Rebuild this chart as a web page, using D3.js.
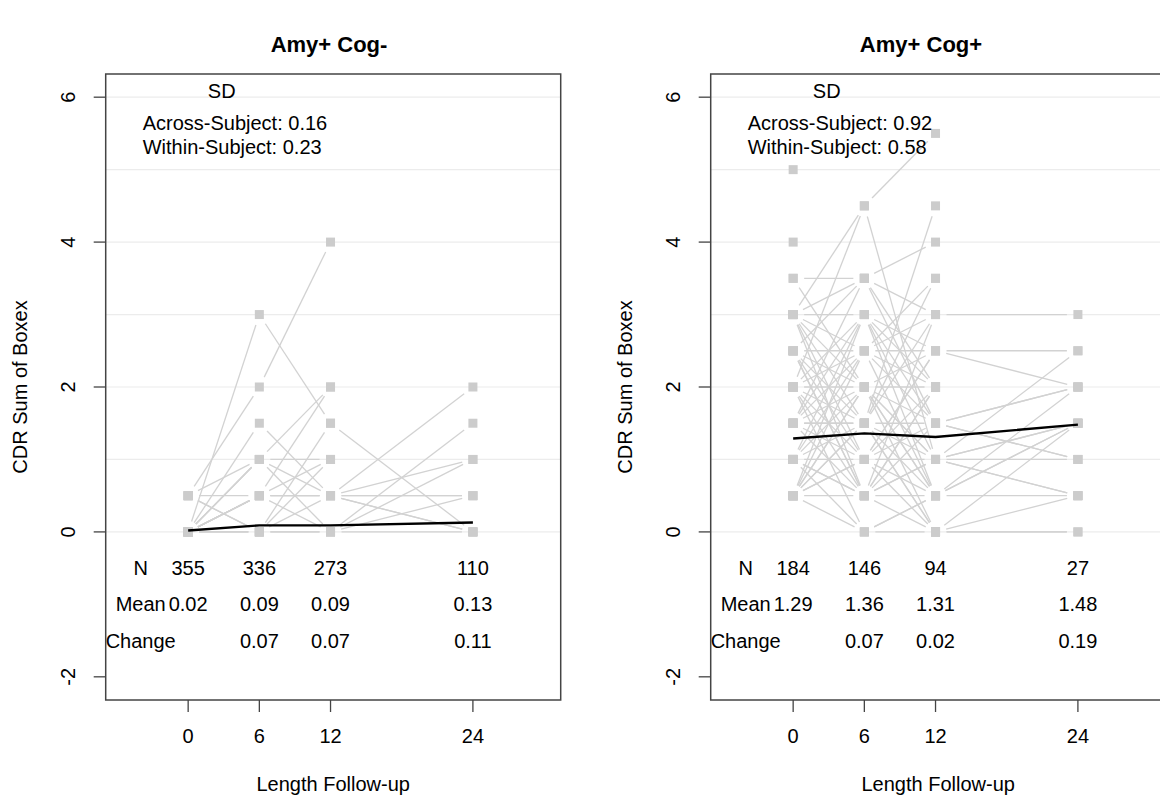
<!DOCTYPE html>
<html>
<head>
<meta charset="utf-8">
<title>cdr-spaghetti</title>
<style>
  * { margin: 0; padding: 0; }
  body { background: #fff; }
  svg { display: block; font-family: "Liberation Sans", Arial, sans-serif; }
</style>
</head>
<body>
<svg id="chart"></svg>
<script src="https://cdnjs.cloudflare.com/ajax/libs/d3/7.8.5/d3.min.js"></script>
<script>
// follow-up visits (months) and axis ticks
const months = [0, 6, 12, 24];
const yTicks = [-2, 0, 2, 4, 6];
const gridLevels = [0, 1, 2, 3, 4, 5, 6];

// Amy+ Cog- panel
const negTitle = 'Amy+ Cog-';
const negN = [355, 336, 273, 110];
const negMean = [0.02, 0.09, 0.09, 0.13];
const negChange = [null, 0.07, 0.07, 0.11];
const negSD = [0.16, 0.23];
// one row per subject: CDR-SB at 0, 6, 12, 24 months (null = no visit)
const negSubjects = [
  [0, 3, 1.5, 0],
  [0.5, 2, 4, null],
  [0, 1.5, 0.5, 2],
  [0.5, 1, 2, null],
  [0, 1, 0, 1.5],
  [0, 0.5, 0.5, 1],
  [0.5, 0.5, 0.5, 0.5],
  [0.5, 0, 1.5, null],
  [0, 0.5, 2, null],
  [0, 1, 0.5, 0],
  [0, 0.5, 0, 1],
  [0, 0, 0.5, 0.5],
  [0, 1, 1, null],
  [0, 0.5, 1, null],
  [0, 0, 1, null],
  [0, 0, 0, 0],
  [0.5, 0, 0, 0.5],
  [0, 0.5, 0.5, 0]
];

// Amy+ Cog+ panel
const posTitle = 'Amy+ Cog+';
const posN = [184, 146, 94, 27];
const posMean = [1.29, 1.36, 1.31, 1.48];
const posChange = [null, 0.07, 0.02, 0.19];
const posSD = [0.92, 0.58];
const posSubjects = [
  [3, 4.5, 5.5, null],
  [2, 4.5, 1, 2.5],
  [3, 3.5, 4, null],
  [3.5, 3.5, 3, 3],
  [3, 3, 2.5, 2.5],
  [1.5, 1.5, 4.5, null],
  [5, null, null, null],
  [4, null, null, null],
  [2.5, 2.5, 2.5, 2],
  [2, 2, 2, null],
  [1.5, 1.5, 1.5, 2],
  [1, 1, 1, 1],
  [0.5, 0.5, 0.5, 0.5],
  [0.5, 0, 0, 0],
  [2.5, 1.5, 0.5, 1.5],
  [2.5, 1, 0, 0.5],
  [2, 0.5, 1, 1.5],
  [0.5, 2.5, 3, null],
  [0.5, 3, 2, null],
  [0.5, 2, 1, 0.5],
  [1, 2.5, 3.5, null],
  [1, 3, 1.5, 1],
  [1.5, 3, 0.5, 2],
  [3, 2, 1.5, 2],
  [2, 1, 2.5, null],
  [2.5, 0.5, 1.5, 1],
  [3, 1.5, 0, 1.5],
  [1.5, 2.5, 0.5, 1.5],
  [1, 0.5, 2, null],
  [0.5, 1.5, 3, null],
  [3.5, 2, 0.5, null],
  [2, 3, 1, 0.5],
  [1.5, 0.5, 3, null],
  [1, 1.5, 0, 0],
  [2.5, 2, 1, 1.5],
  [0.5, 1, 2.5, null],
  [3, 2.5, 1.5, null],
  [1, 0, 0.5, null],
  [2, 2.5, 2, null],
  [1.5, 2, 0, null],
  [0.5, 1.5, 1, null],
  [2.5, 3.5, 2, null],
  [2, 1.5, 3.5, null],
  [1, 2, 0.5, null],
  [3, 1, 1.5, null],
  [0.5, 2, 2.5, null],
  [2.5, 0.5, 0, null],
  [1.5, 1, 2, null],
  [1, 0.5, 1, null],
  [2, 0, 0.5, null],
  [3, 0.5, 2, null],
  [0.5, 1, 0.5, null],
  [1.5, 3.5, 1.5, null]
];

const W = 1160, H = 796;
const FS = '20px';
const svg = d3.select('#chart').attr('width', W).attr('height', H);

function drawPanel(left, titleX, title, subjects, nRow, meanRow, changeRow, sd) {
  const box = { left: left, right: left + 455, top: 74, bottom: 700 };
  const x = d3.scaleLinear().domain([-6.95, 31.4]).range([box.left, box.right]);
  const y = d3.scaleLinear().domain([-2.32, 6.32]).range([box.bottom, box.top]);
  const g = svg.append('g');

  // grid
  g.selectAll('.grid').data(gridLevels).enter().append('line')
    .attr('x1', box.left).attr('x2', box.right)
    .attr('y1', d => y(d)).attr('y2', d => y(d))
    .attr('stroke', '#ececec').attr('stroke-width', 1.2);

  // subject segments, type="b" style gaps around the points
  const gap = 11;
  const segs = [];
  subjects.forEach(s => {
    for (let i = 0; i < s.length - 1; i++) {
      if (s[i] == null || s[i + 1] == null) continue;
      const x1 = x(months[i]), y1 = y(s[i]), x2 = x(months[i + 1]), y2 = y(s[i + 1]);
      const len = Math.hypot(x2 - x1, y2 - y1);
      if (len <= 2 * gap) continue;
      const ux = (x2 - x1) / len, uy = (y2 - y1) / len;
      segs.push([x1 + ux * gap, y1 + uy * gap, x2 - ux * gap, y2 - uy * gap]);
    }
  });
  g.selectAll('.seg').data(segs).enter().append('line')
    .attr('x1', d => d[0]).attr('y1', d => d[1])
    .attr('x2', d => d[2]).attr('y2', d => d[3])
    .attr('stroke', '#d2d2d2').attr('stroke-width', 1.3);

  // points
  const pts = [];
  subjects.forEach(s => s.forEach((v, i) => { if (v != null) pts.push([months[i], v]); }));
  g.selectAll('.pt').data(pts).enter().append('rect')
    .attr('x', d => x(d[0]) - 4.5).attr('y', d => y(d[1]) - 4.5)
    .attr('width', 9).attr('height', 9)
    .attr('fill', '#cccccc');

  // mean trajectory
  const line = d3.line().x((d, i) => x(months[i])).y(d => y(d));
  g.append('path').datum(meanRow).attr('d', line)
    .attr('fill', 'none').attr('stroke', '#000').attr('stroke-width', 2.4);

  // frame
  g.append('rect')
    .attr('x', box.left).attr('y', box.top)
    .attr('width', box.right - box.left).attr('height', box.bottom - box.top)
    .attr('fill', 'none').attr('stroke', '#444').attr('stroke-width', 1.5);

  // y axis ticks and labels
  g.selectAll('.ytick').data(yTicks).enter().append('line')
    .attr('x1', box.left - 12).attr('x2', box.left)
    .attr('y1', d => y(d)).attr('y2', d => y(d))
    .attr('stroke', '#444').attr('stroke-width', 1.3);
  g.selectAll('.ylab').data(yTicks).enter().append('text')
    .attr('transform', d => `translate(${box.left - 38},${y(d)}) rotate(-90)`)
    .attr('text-anchor', 'middle').attr('dy', '0.35em')
    .style('font-size', FS).text(d => d);

  // x axis ticks and labels
  g.selectAll('.xtick').data(months).enter().append('line')
    .attr('x1', d => x(d)).attr('x2', d => x(d))
    .attr('y1', box.bottom).attr('y2', box.bottom + 12)
    .attr('stroke', '#444').attr('stroke-width', 1.3);
  g.selectAll('.xlab').data(months).enter().append('text')
    .attr('x', d => x(d)).attr('y', 743)
    .attr('text-anchor', 'middle').style('font-size', FS).text(d => d);

  g.append('text')
    .attr('x', (box.left + box.right) / 2).attr('y', 791)
    .attr('text-anchor', 'middle').style('font-size', FS)
    .text('Length Follow-up');

  g.append('text')
    .attr('transform', `translate(${box.left - 86},${(box.top + box.bottom) / 2}) rotate(-90)`)
    .attr('text-anchor', 'middle').attr('dy', '0.35em')
    .style('font-size', FS).text('CDR Sum of Boxex');

  g.append('text')
    .attr('x', titleX).attr('y', 52)
    .attr('text-anchor', 'middle').style('font-size', '22px').style('font-weight', 'bold')
    .text(title);

  // SD legend
  g.append('text').attr('x', box.left + 116).attr('y', 98)
    .attr('text-anchor', 'middle').style('font-size', FS).text('SD');
  g.append('text').attr('x', box.left + 37).attr('y', 130)
    .style('font-size', FS).text(`Across-Subject: ${sd[0].toFixed(2)}`);
  g.append('text').attr('x', box.left + 37).attr('y', 154)
    .style('font-size', FS).text(`Within-Subject: ${sd[1].toFixed(2)}`);

  // N / Mean / Change table
  const rows = [
    { label: 'N', level: -0.5, vals: nRow.map(d => String(d)) },
    { label: 'Mean', level: -1, vals: meanRow.map(d => d.toFixed(2)) },
    { label: 'Change', level: -1.5, vals: changeRow.map(d => d == null ? '' : d.toFixed(2)) }
  ];
  rows.forEach(r => {
    g.append('text').attr('x', x(-4)).attr('y', y(r.level)).attr('dy', '0.35em')
      .attr('text-anchor', 'middle').style('font-size', FS).text(r.label);
    g.selectAll(null).data(r.vals).enter().append('text')
      .attr('x', (d, i) => x(months[i])).attr('y', y(r.level)).attr('dy', '0.35em')
      .attr('text-anchor', 'middle').style('font-size', FS).text(d => d);
  });
}

drawPanel(105.7, 329, negTitle, negSubjects, negN, negMean, negChange, negSD);
drawPanel(710.7, 921, posTitle, posSubjects, posN, posMean, posChange, posSD);
</script>
</body>
</html>
